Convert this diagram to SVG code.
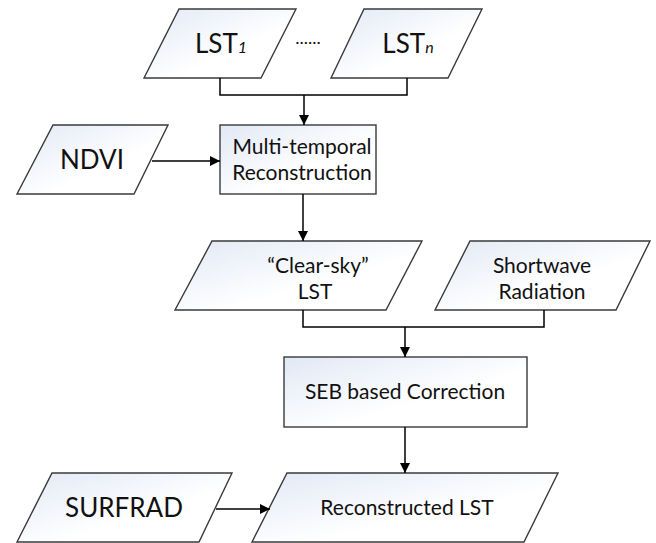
<svg xmlns="http://www.w3.org/2000/svg" width="656" height="543" viewBox="0 0 656 543">
<defs>
<linearGradient id="g" x1="0" y1="0" x2="1" y2="1">
<stop offset="0" stop-color="#e1e8f5"/>
<stop offset="0.6" stop-color="#ffffff"/>
</linearGradient>
<marker id="a" viewBox="0 0 10 10" refX="10" refY="5" markerWidth="10" markerHeight="10" markerUnits="userSpaceOnUse" orient="auto">
<path d="M0,0 L10,5 L0,10 Z" fill="#000"/>
</marker>
<style>
.s{fill:url(#g);stroke:#3a3a3a;stroke-width:1.4}
.t{font-family:Lato,"Open Sans","Liberation Sans",sans-serif;fill:#111;text-anchor:middle}
.b{font-size:26px}
.m{font-size:21px}
.c{fill:none;stroke:#000;stroke-width:1.5}
</style>
</defs>
<rect width="656" height="543" fill="#fff"/>
<g id="lst1">
<polygon class="s" points="179,9 296,9 261,78 144,78"/>
<text class="t b" x="221" y="53">LST<tspan font-size="16" font-style="italic">1</tspan></text>
</g>
<g id="dots">
<text class="t" x="308" y="44" font-size="18">......</text>
</g>
<g id="lstn">
<polygon class="s" points="364,9 482,9 448,78 331,78"/>
<text class="t b" x="408" y="53">LST<tspan font-size="16" font-style="italic">n</tspan></text>
</g>
<g id="ndvi">
<polygon class="s" points="53,125 168,125 134,194 17,194"/>
<text class="t b" x="92" y="169">NDVI</text>
</g>
<g id="multi">
<rect class="s" x="220" y="125" width="156" height="69"/>
<text class="t m" x="302" y="154">Multi-temporal</text>
<text class="t m" x="302" y="180">Reconstruction</text>
</g>
<g id="clearsky">
<polygon class="s" points="212,241 422,241 386,310 175,310"/>
<text class="t m" x="318" y="273">“Clear-sky”</text>
<text class="t m" x="315" y="299">LST</text>
</g>
<g id="shortwave">
<polygon class="s" points="470,241 650,241 616,310 435,310"/>
<text class="t m" x="542" y="273">Shortwave</text>
<text class="t m" x="542" y="299">Radiation</text>
</g>
<g id="seb">
<rect class="s" x="284" y="357" width="243" height="70"/>
<text class="t m" x="405" y="399">SEB based Correction</text>
</g>
<g id="surfrad">
<polygon class="s" points="52,473 232,473 199,542 17,542"/>
<text class="t b" x="124" y="517">SURFRAD</text>
</g>
<g id="reconstructed">
<polygon class="s" points="287,473 558,473 524,542 252,542"/>
<text class="t m" x="407" y="515">Reconstructed LST</text>
</g>
<g id="connectors">
<polyline class="c" points="220,78 220,95 407,95 407,78"/>
<line class="c" x1="304" y1="95" x2="304" y2="125" marker-end="url(#a)"/>
<line class="c" x1="152" y1="161" x2="220" y2="161" marker-end="url(#a)"/>
<line class="c" x1="303" y1="194" x2="303" y2="241" marker-end="url(#a)"/>
<polyline class="c" points="303,310 303,327 544,327 544,310"/>
<line class="c" x1="405" y1="327" x2="405" y2="357" marker-end="url(#a)"/>
<line class="c" x1="405" y1="427" x2="405" y2="473" marker-end="url(#a)"/>
<line class="c" x1="216" y1="509" x2="270" y2="509" marker-end="url(#a)"/>
</g>
</svg>
